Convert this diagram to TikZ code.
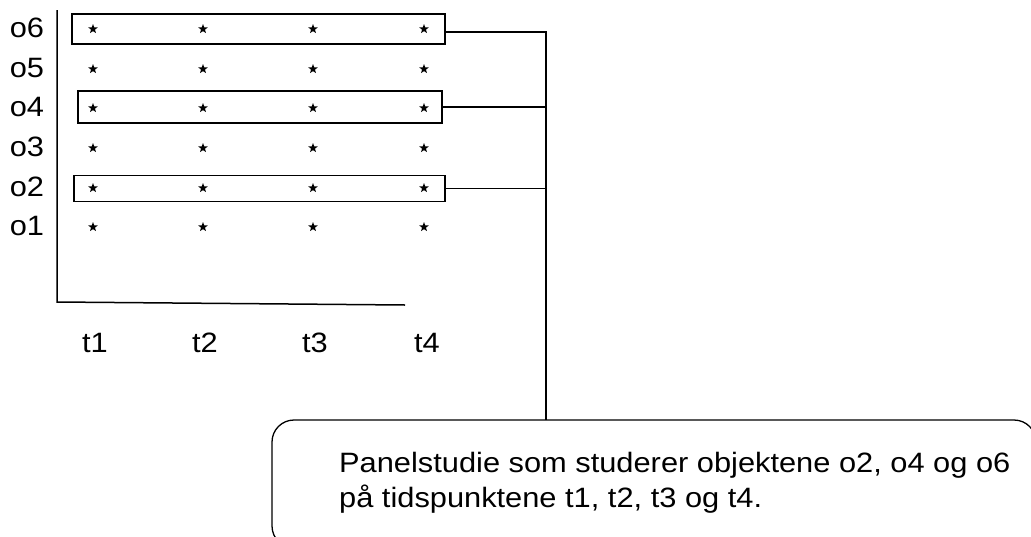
\documentclass[tikz,border=0pt]{standalone}
\usepackage{fontspec}
\setmainfont{Liberation Sans}
\newfontfamily\widesans[FakeStretch=1.1]{Liberation Sans}
\usetikzlibrary{shapes.geometric}
\begin{document}
\begin{tikzpicture}[x=1pt,y=-1pt,
  lbl/.style={font=\widesans\fontsize{28}{34}\selectfont, inner sep=0pt},
  pt/.style={star, star points=5, star point ratio=2.4, fill=black, inner sep=0pt, minimum size=10pt},
  rowbox/.style={draw, line width=1.8pt, inner sep=0pt},
  ln/.style={line width=1.5pt},
  callout/.style={draw, line width=1.3pt, rounded corners=22pt}
]
\clip (0,0) rectangle (1031,536);
\fill[white] (0,0) rectangle (1031,536);
% axes
\coordinate (ytop) at (57,10);
\coordinate (orig) at (57,302);
\coordinate (xend) at (405,305);
\draw[ln] (ytop) -- (orig) -- (xend);
% row labels
\foreach \i/\y in {6/28,5/68,4/107,3/147,2/187,1/226}{
  \node[lbl] (o\i) at (27,\y) {o\i};
  \foreach \j/\x in {1/93,2/203,3/313,4/424}{
    \node[pt] (s\i\j) at (\x,\y+1) {};
  }
}
% time labels
\foreach \j/\x in {1/95,2/205,3/315,4/427}{
  \node[lbl] (t\j) at (\x,343) {t\j};
}
% boxes
\node[rowbox, minimum width=373pt, minimum height=30pt] (b6) at (258.5,29) {};
\node[rowbox, minimum width=364pt, minimum height=32pt] (b4) at (260,107) {};
\node[rowbox, minimum width=371pt, minimum height=26pt] (b2) at (259.5,188.5) {};
% callout
\draw[callout] (272,548) -- (272,420) -- (1036,420) -- (1036,548) -- cycle;
\node[anchor=west, align=left, font=\widesans\fontsize{28}{35}\selectfont, inner sep=0pt] (txt) at (339,483)
  {Panelstudie som studerer objektene o2, o4 og o6\\på tidspunktene t1, t2, t3 og t4.};
\coordinate (top) at (546,32);
\coordinate (cb) at (546,420);
\draw[ln] (b6.east |- top) -- (top) -- (cb);
\draw[ln] (b4.east) -- (b4.east -| top);
\draw[ln] (b2.east) -- (b2.east -| top);
\end{tikzpicture}
\end{document}
